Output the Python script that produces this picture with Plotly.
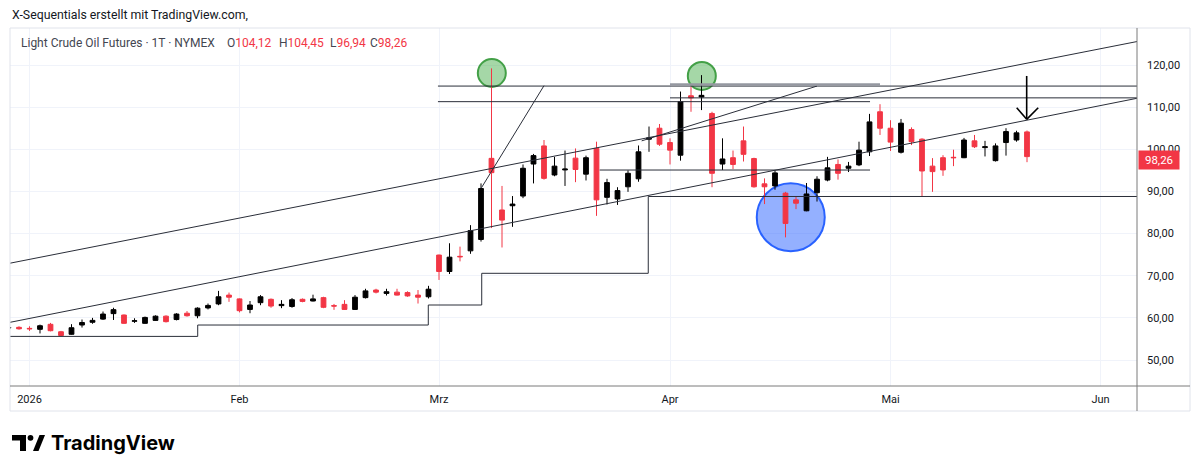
import plotly.graph_objects as go
import pandas as pd

# ---------------- data ----------------
holidays = ["2026-01-01", "2026-01-19", "2026-02-16", "2026-04-03", "2026-05-25"]
all_days = [d for d in pd.bdate_range("2025-12-30", "2026-06-05").strftime("%Y-%m-%d") if d not in holidays]

open_ = [57.60, 57.75, 57.50, 57.28, 58.47, 56.70, 56.10, 58.30, 58.95, 59.70,
         61.00, 60.67, 59.20, 58.70, 59.40, 60.40, 59.60, 61.10, 60.50, 62.35,
         63.30, 65.40, 64.50, 62.00, 63.60, 64.40, 62.90, 62.70, 64.40, 64.00,
         64.80, 62.90, 63.20, 62.00, 64.80, 66.60, 65.80, 66.10, 66.00, 65.40,
         65.00, 74.90, 71.00, 74.60, 75.90, 78.60, 97.85, 85.60, 86.60, 88.90,
         96.50, 100.80, 93.90, 95.10, 97.90, 94.10, 100.20, 88.60, 88.20, 91.10,
         93.00, 102.40, 105.00, 101.60, 98.60, 112.70, 112.40, 108.50, 96.50, 98.00,
         102.00, 97.80, 91.80, 91.30, 89.60, 88.00, 85.40, 89.70, 92.70, 96.40,
         95.50, 96.30, 99.40, 108.90, 105.00, 99.30, 104.70, 102.40, 96.00, 98.00,
         98.10, 98.00, 102.00, 100.40, 97.30, 101.60, 102.20, 104.12]
high = [57.90, 58.00, 58.00, 58.40, 58.80, 56.90, 58.50, 59.60, 60.00, 61.50,
        62.40, 60.80, 59.90, 60.30, 60.60, 60.60, 61.10, 61.60, 62.50, 63.40,
        66.40, 66.00, 64.60, 64.00, 65.40, 64.60, 64.20, 64.70, 64.60, 65.50,
        65.00, 63.30, 64.20, 65.40, 66.90, 66.90, 66.90, 66.90, 66.30, 66.60,
        67.60, 75.00, 77.70, 76.90, 82.00, 91.90, 119.20, 91.30, 88.90, 96.40,
        98.90, 102.20, 98.20, 99.70, 100.20, 98.50, 101.80, 93.00, 91.00, 95.00,
        100.90, 105.40, 106.00, 102.60, 113.70, 114.90, 117.60, 108.90, 102.60, 99.70,
        105.40, 98.00, 93.10, 95.00, 89.90, 88.80, 92.00, 93.60, 98.20, 97.60,
        97.00, 101.80, 108.40, 110.70, 106.90, 107.20, 105.20, 102.60, 97.90, 98.60,
        99.90, 102.70, 103.40, 102.00, 101.40, 105.00, 104.40, 104.45]
low = [57.40, 57.20, 56.90, 56.30, 56.80, 55.60, 56.00, 57.70, 58.60, 59.50,
       59.50, 58.60, 58.80, 58.60, 59.30, 58.90, 59.40, 60.30, 59.90, 62.00,
       63.00, 63.80, 61.30, 61.10, 63.00, 62.40, 62.30, 62.40, 63.70, 63.90,
       62.30, 61.90, 61.90, 61.90, 64.60, 65.80, 65.30, 65.30, 65.00, 63.40,
       64.60, 69.00, 70.40, 73.40, 75.20, 78.10, 81.30, 76.70, 81.60, 88.40,
       91.90, 92.80, 93.60, 91.30, 92.20, 92.60, 84.20, 86.90, 86.80, 89.90,
       92.30, 99.40, 100.80, 96.40, 97.30, 108.90, 109.30, 91.00, 95.10, 95.30,
       97.10, 90.90, 87.00, 90.40, 79.10, 85.80, 85.30, 87.60, 92.40, 92.80,
       94.60, 96.00, 98.40, 103.40, 99.60, 99.00, 101.00, 88.75, 89.90, 93.70,
       96.00, 97.90, 100.30, 98.30, 97.10, 98.50, 101.80, 96.94]
close = [57.70, 57.40, 57.40, 58.13, 56.95, 55.80, 57.66, 58.90, 59.40, 60.90,
         61.95, 58.70, 59.30, 60.10, 60.40, 59.10, 60.90, 60.50, 62.30, 62.95,
         65.00, 64.90, 61.70, 63.05, 65.00, 62.80, 63.20, 64.30, 63.90, 64.50,
         62.50, 62.80, 62.00, 64.90, 66.40, 66.10, 66.20, 65.40, 65.20, 64.90,
         66.80, 71.00, 74.40, 74.50, 80.70, 90.70, 94.45, 83.20, 87.00, 95.50,
         98.50, 93.10, 96.00, 95.30, 95.20, 98.00, 88.00, 92.10, 90.20, 94.30,
         99.40, 102.70, 101.20, 99.80, 111.30, 112.20, 112.80, 94.30, 97.70, 96.40,
         98.80, 91.10, 91.10, 94.40, 82.40, 87.20, 89.40, 92.90, 95.60, 94.30,
         96.00, 99.80, 106.50, 105.00, 101.70, 106.20, 101.80, 94.85, 94.70, 95.10,
         98.00, 102.20, 100.60, 100.60, 100.80, 104.20, 103.90, 98.26]

dates = all_days[:len(close)]
bar_x = list(range(len(dates)))

tick_dates = ["2026-01-02", "2026-02-02", "2026-03-02", "2026-04-01", "2026-05-01", "2026-06-01"]
tick_text = ["2026", "Feb", "Mrz", "Apr", "Mai", "Jun"]
tick_idx = [all_days.index(d) for d in tick_dates]

price_ticks = [50, 60, 70, 80, 90, 100, 110, 120]
price_text = [f"{v},00" for v in price_ticks]

header_name = "Light Crude Oil Futures · 1T · NYMEX"
ohlc_labels = ["O", "H", "L", "C"]
ohlc_values = ["104,12", "104,45", "96,94", "98,26"]

# drawings (bar index, price)
trend_segments = [
    (0, 72.90, 110, 126.80),
    (0, 58.87, 110, 113.35),
    (45.05, 90.9, 51.0, 115.1),
    (60.3, 102.0, 77.0, 115.0),
]
level_segments = [
    (40.9, 115.0, 110, 115.0),
    (40.9, 111.3, 82.05, 111.3),
    (63.0, 112.2, 110, 112.2),
    (56.3, 95.08, 82.05, 95.08),
]
gray_level = (63.0, 115.35, 83.0, 115.35)
step_x = [0, 18.02, 39.98, 45.07, 60.93, 110]
step_y = [55.6, 58.3, 63.05, 70.57, 88.8, 88.8]
green_circles = [(46.03, 118.1), (66.03, 117.4)]
blue_circle = (74.5, 83.88)
arrow_segments = [
    (96.97, 117.4, 96.97, 107.11),
    (96.02, 109.87, 96.97, 107.11),
    (98.07, 109.87, 96.97, 107.11),
]

# ---------------- figure ----------------
UP = "#000000"
DOWN = "#f23645"
FONT = "Roboto"
OFF = 8                      # default page body margin
W, H = 1200 - OFF, 474 - OFF
X0, X1, Y0, Y1 = 10, 1137, 28, 386   # plot area in screen pixels
L, T = X0 - OFF, Y0 - OFF
R, B = W - (X1 - OFF), H - (Y1 - OFF)
PW, PH = X1 - X0, Y1 - Y0


def px(xs):
    return (xs - X0) / PW


def py(ys):
    return (Y1 - ys) / PH


def seg_xy(segs):
    xs, ys = [], []
    for a, b, c, d in segs:
        xs += [a, c, None]
        ys += [b, d, None]
    return xs, ys


fig = go.Figure()
fig.add_trace(go.Candlestick(
    x=bar_x, open=open_, high=high, low=low, close=close,
    increasing=dict(line=dict(color=UP, width=1), fillcolor=UP),
    decreasing=dict(line=dict(color=DOWN, width=1), fillcolor=DOWN),
    whiskerwidth=0, showlegend=False, hoverinfo="skip",
))

tx, ty = seg_xy(trend_segments + level_segments)
fig.add_trace(go.Scatter(x=tx, y=ty, mode="lines", line=dict(color="#2a2e39", width=1),
                         showlegend=False, hoverinfo="skip"))
gx, gy = seg_xy([gray_level])
fig.add_trace(go.Scatter(x=gx, y=gy, mode="lines", line=dict(color="#9598a1", width=2.5),
                         showlegend=False, hoverinfo="skip"))
fig.add_trace(go.Scatter(x=step_x, y=step_y, mode="lines", line=dict(color="#2a2e39", width=1, shape="hv"),
                         showlegend=False, hoverinfo="skip"))
ax_, ay_ = seg_xy(arrow_segments)
fig.add_trace(go.Scatter(x=ax_, y=ay_, mode="lines", line=dict(color="#000000", width=1.6),
                         showlegend=False, hoverinfo="skip"))

shapes = []
for cx, cy in green_circles:
    shapes.append(dict(type="circle", xref="x", yref="y", xsizemode="pixel", ysizemode="pixel",
                       xanchor=cx, yanchor=cy, x0=-14, x1=14, y0=-14, y1=14, layer="between",
                       fillcolor="rgba(76,175,80,0.5)", line=dict(color="#43a047", width=2)))
bx, by = blue_circle
shapes.append(dict(type="circle", xref="x", yref="y", xsizemode="pixel", ysizemode="pixel",
                   xanchor=bx, yanchor=by, x0=-34, x1=34, y0=-34, y1=34, layer="between",
                   fillcolor="rgba(41,98,255,0.5)", line=dict(color="#2962ff", width=2)))

BORDER = "#e0e3eb"
AXL = "#7a7a7a"


def pline(xa, ya, xb, yb, color, width=1):
    return dict(type="line", xref="paper", yref="paper", x0=px(xa), x1=px(xb), y0=py(ya), y1=py(yb),
                line=dict(color=color, width=width))


shapes += [
    pline(10, 28, 1190, 28, BORDER),
    pline(10, 28, 10, 411, BORDER),
    pline(1190, 28, 1190, 411, BORDER),
    pline(10, 411, 1190, 411, BORDER),
    pline(10, 386, 1190, 386, AXL),
    pline(1137, 28, 1137, 411, AXL),
]
# TradingView logo mark
shapes += [
    dict(type="rect", xref="paper", yref="paper", x0=px(12), x1=px(26), y0=py(440.5), y1=py(435),
         fillcolor="#000", line=dict(width=0)),
    dict(type="rect", xref="paper", yref="paper", x0=px(20), x1=px(26), y0=py(451), y1=py(435),
         fillcolor="#000", line=dict(width=0)),
    dict(type="circle", xref="paper", yref="paper", x0=px(27.6), x1=px(33.4), y0=py(440.7), y1=py(434.9),
         fillcolor="#000", line=dict(width=0)),
    dict(type="path", xref="paper", yref="paper",
         path=f"M {px(33)} {py(451)} L {px(38.5)} {py(451)} L {px(45)} {py(435)} L {px(39.5)} {py(435)} Z",
         fillcolor="#000", line=dict(width=0)),
]

annotations = [
    dict(xref="paper", yref="paper", x=px(10), y=py(15), xanchor="left", yanchor="middle", showarrow=False,
         text="X-Sequentials erstellt mit TradingView.com,", font=dict(family=FONT, size=12.3, color="#131722")),
    dict(xref="paper", yref="paper", x=px(19), y=py(42.5), xanchor="left", yanchor="middle", showarrow=False,
         text=header_name, font=dict(family=FONT, size=12, color="#434651")),
    dict(xref="paper", yref="y", x=1.0006, y=close[-1], xanchor="left", yanchor="middle", showarrow=False,
         text="98,26", bgcolor="#f23645", borderpad=2, width=36, align="center", yshift=-3,
         font=dict(family=FONT, size=11.5, color="#ffffff")),
    dict(xref="paper", yref="paper", x=px(49), y=py(443), xanchor="left", yanchor="middle", showarrow=False,
         text="<b>TradingView</b>", font=dict(family="Inter", size=20, color="#000000")),
]
for xs, lab, val in zip([225, 276.7, 328.3, 368.3], ohlc_labels, ohlc_values):
    annotations.append(dict(xref="paper", yref="paper", x=px(xs), y=py(42.5), xanchor="left", yanchor="middle",
                            showarrow=False, text=f"{lab}<span style='color:#f23645'>{val}</span>",
                            font=dict(family=FONT, size=12, color="#434651")))

fig.update_layout(
    width=W, height=H, autosize=False,
    margin=dict(l=L, r=R, t=T, b=B),
    paper_bgcolor="white", plot_bgcolor="white",
    boxgap=0.35,
    showlegend=False, hovermode=False,
    shapes=shapes, annotations=annotations,
    xaxis=dict(range=[(X0 - 8.5) / 10.5, (X1 - 8.5) / 10.5], rangeslider=dict(visible=False),
               tickmode="array", tickvals=tick_idx, ticktext=tick_text,
               showgrid=True, gridcolor="#f0f3fa", gridwidth=1, zeroline=False, showline=False,
               ticks="", ticklabelstandoff=5,
               tickfont=dict(family=FONT, size=11, color="#131722"), fixedrange=True),
    yaxis=dict(side="right", range=[43.83, 128.78], tickmode="array", tickvals=price_ticks, ticktext=price_text,
               showgrid=True, gridcolor="#f0f3fa", gridwidth=1, zeroline=False, showline=False,
               ticks="", ticklabelstandoff=9,
               tickfont=dict(family=FONT, size=11, color="#131722"), fixedrange=True),
)

fig.write_html("out.html")
